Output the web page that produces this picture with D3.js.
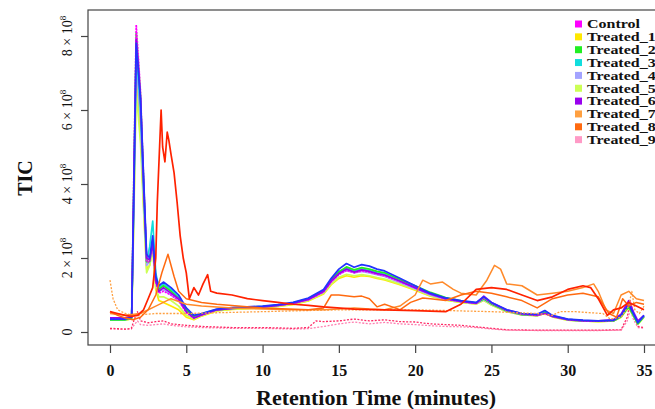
<!DOCTYPE html>
<html><head><meta charset="utf-8">
<script src="https://cdn.jsdelivr.net/npm/d3@7/dist/d3.min.js"></script>
<style>body{margin:0;background:#fff}svg{display:block}</style>
</head><body><svg id="c" width="655" height="409"></svg>
<script>
// ---------- data (TIC in units of 1e8) ----------
const times = [0,0.5,1.0,1.42,1.55,1.72,2.0,2.2,2.4,2.6, 2.8,3.0,3.2,3.5,4.0,4.5,5.0,5.5,6.0,7, 8,9,10,11,12,13,14,14.5,15,15.5, 16,16.5,17,17.5,18,19,20,21,22,23, 24,24.5,25,26,27,28,28.5,29,30,31, 32,33,33.5,34,34.3,34.6,35];

const treated1 = [0.32,0.32,0.32,0.36,3.0,7.0,5.4,3.5,1.7,1.8, 2.3,1.15,0.85,0.8,0.7,0.6,0.4,0.33,0.43,0.57, 0.61,0.63,0.65,0.69,0.74,0.84,1.03,1.28,1.45,1.52, 1.48,1.52,1.5,1.45,1.41,1.28,1.13,0.97,0.86,0.8, 0.76,0.86,0.73,0.55,0.46,0.44,0.5,0.41,0.32,0.3, 0.28,0.3,0.4,0.7,0.44,0.22,0.4];
const treated5 = [0.32,0.32,0.32,0.36,2.8,6.5,5.1,3.3,1.6,1.8, 2.2,1.2,0.95,0.95,0.85,0.7,0.45,0.35,0.44,0.58, 0.62,0.64,0.66,0.7,0.75,0.85,1.05,1.3,1.48,1.56, 1.52,1.55,1.52,1.47,1.43,1.3,1.15,0.98,0.87,0.8, 0.76,0.86,0.73,0.55,0.46,0.44,0.5,0.41,0.32,0.3, 0.28,0.3,0.4,0.66,0.44,0.22,0.4];
const treated4 = [0.33,0.33,0.33,0.37,3.2,7.3,5.7,3.7,1.8,1.9, 2.4,1.35,1.1,1.15,1.0,0.85,0.55,0.4,0.47,0.6, 0.64,0.66,0.68,0.72,0.77,0.88,1.08,1.36,1.56,1.66, 1.6,1.64,1.6,1.55,1.5,1.34,1.17,1.0,0.88,0.82, 0.77,0.88,0.75,0.56,0.47,0.45,0.52,0.42,0.33,0.3, 0.29,0.3,0.42,0.7,0.46,0.24,0.42];
const treated3 = [0.34,0.34,0.34,0.39,3.4,7.6,6.0,3.9,1.9,2.3, 3.0,1.6,1.2,1.3,1.15,0.95,0.62,0.44,0.49,0.61, 0.65,0.67,0.69,0.73,0.79,0.9,1.12,1.42,1.64,1.72, 1.65,1.7,1.66,1.6,1.56,1.38,1.2,1.02,0.9,0.83, 0.78,0.9,0.77,0.58,0.48,0.46,0.55,0.43,0.34,0.31, 0.29,0.31,0.43,0.7,0.47,0.23,0.43];
const treated2 = [0.33,0.33,0.33,0.38,3.8,8.1,6.4,4.1,1.9,1.9, 2.5,1.4,1.15,1.25,1.1,0.9,0.6,0.42,0.48,0.6, 0.64,0.66,0.68,0.72,0.78,0.9,1.1,1.4,1.62,1.76, 1.68,1.74,1.7,1.64,1.6,1.42,1.25,1.07,0.93,0.84, 0.78,0.9,0.76,0.57,0.47,0.45,0.52,0.42,0.33,0.3, 0.29,0.3,0.42,0.68,0.45,0.22,0.42];
const control  = [0.36,0.36,0.36,0.4,3.9,8.3,6.5,4.2,1.9,1.9, 2.4,1.35,1.05,1.1,1.0,0.85,0.52,0.37,0.46,0.6, 0.64,0.66,0.68,0.72,0.77,0.87,1.08,1.35,1.55,1.66, 1.6,1.65,1.62,1.56,1.52,1.36,1.19,1.02,0.89,0.82, 0.77,0.92,0.78,0.58,0.48,0.45,0.5,0.42,0.33,0.3, 0.29,0.31,0.45,0.8,0.5,0.27,0.44];
const treated6 = [0.38,0.38,0.38,0.42,3.6,7.9,6.3,4.0,2.0,1.95, 2.4,1.4,1.1,1.2,1.05,0.9,0.55,0.38,0.46,0.6, 0.64,0.66,0.68,0.72,0.78,0.88,1.1,1.38,1.58,1.7, 1.62,1.68,1.64,1.58,1.54,1.38,1.2,1.03,0.9,0.83, 0.78,0.97,0.8,0.6,0.5,0.46,0.5,0.43,0.34,0.31, 0.3,0.33,0.48,0.85,0.55,0.3,0.45];
const blueRun  = [0.35,0.35,0.35,0.4,3.5,7.8,6.3,4.2,2.1,2.0, 2.6,1.5,1.25,1.35,1.2,1.0,0.65,0.45,0.5,0.62, 0.66,0.68,0.7,0.74,0.8,0.92,1.15,1.45,1.7,1.85, 1.75,1.82,1.78,1.7,1.65,1.45,1.25,1.05,0.92,0.85, 0.8,0.95,0.8,0.6,0.5,0.48,0.58,0.45,0.35,0.32, 0.3,0.32,0.45,0.75,0.5,0.25,0.45];

const redTimes = [0,0.5,1.0,1.4,1.8,2.2,2.5,2.8,3.0,3.1,3.25,3.35,3.45,3.6,3.75,3.85,4.0,4.2,4.4,4.6,4.8,5.0,5.2,5.5,5.8,6.1,6.4,6.6,7,8,9,10,11,12,13,14,16,18,20,22,23,24,25,26,27,28,29,30,31,31.5,32,32.6,33,33.5,34,34.5,35];
const redVals  = [0.55,0.5,0.45,0.42,0.45,0.6,0.9,1.2,2.0,3.5,5.0,6.0,5.0,4.6,5.4,5.2,4.8,4.3,3.5,2.6,2.0,1.6,0.9,1.2,1.0,1.3,1.55,1.1,1.05,1.0,0.9,0.85,0.8,0.75,0.72,0.68,0.62,0.6,0.58,0.55,0.75,1.15,1.2,1.15,1.0,0.85,0.95,1.15,1.25,1.2,0.9,0.45,0.6,0.65,0.8,0.7,0.6];

const t8Times = [0,0.5,1.0,1.5,2.0,2.5,3.0,3.4,3.8,4.2,4.5,5,6,7,10,13,14,14.5,15,16,16.5,17,17.5,18,18.5,19,19.7,20.5,21,22,23,24,25,26,27,28,29,30,31,32,32.7,33.2,33.6,34,34.5,35];
const t8Vals  = [0.55,0.45,0.38,0.33,0.4,0.6,1.0,1.6,2.1,1.5,1.1,0.9,0.8,0.75,0.65,0.6,0.65,1.0,1.0,0.95,0.97,0.9,0.68,0.75,0.68,0.6,0.8,0.92,0.9,0.85,1.0,1.1,1.05,0.95,0.85,0.65,0.9,1.0,1.05,0.95,0.5,0.4,0.9,0.7,0.8,0.75];

const orangeTimes = [0,1,2,3,4,5,6,8,10,12,14,15,16,17,18,19,20,20.5,21,21.8,22.5,23,24,24.7,25.2,25.6,26,27,28,29,30,31,31.7,32,32.5,33,33.5,34,34.5,35];
const orangeVals  = [0.5,0.45,0.5,0.7,0.9,0.75,0.7,0.65,0.62,0.6,0.6,0.62,0.65,0.62,0.6,0.7,1.0,1.4,1.3,1.35,1.15,1.05,1.0,1.4,1.8,1.7,1.3,1.25,1.0,1.05,1.1,1.2,1.3,1.1,0.6,0.5,1.0,1.1,0.9,0.85];

const t7Times = [0,0.2,0.5,1.0,1.5,3,5,10,15,20,25,28,29,29.5,30.5,31.5,32.3,32.8,33.5,34,34.2,34.4,34.7,35];
const t7Vals  = [1.4,0.9,0.6,0.5,0.45,0.5,0.5,0.55,0.6,0.6,0.55,0.5,0.45,0.55,0.55,0.52,0.5,0.35,0.4,0.7,1.1,0.6,0.5,0.7];

const pinkTimes = [0,1,1.4,1.6,1.8,2.0,2.5,3,3.5,4,5,6,8,10,12,13,13.5,14,15,16,17,18,19,20,21,22,23,24,25,26,28,30,32,33.5,33.9,34.1,34.3,34.6,35];
const pinkVals  = [0.1,0.08,0.1,0.35,0.55,0.3,0.25,0.28,0.3,0.22,0.18,0.15,0.12,0.12,0.1,0.12,0.3,0.28,0.3,0.35,0.3,0.33,0.28,0.27,0.22,0.2,0.18,0.14,0.1,0.06,0.05,0.05,0.05,0.06,0.4,0.85,0.5,0.15,0.12];
const t9Vals    = [0.08,0.07,0.08,0.2,0.3,0.2,0.18,0.2,0.22,0.18,0.14,0.12,0.1,0.1,0.08,0.09,0.12,0.15,0.22,0.27,0.22,0.26,0.22,0.2,0.17,0.15,0.14,0.12,0.08,0.05,0.04,0.04,0.04,0.05,0.3,0.6,0.35,0.12,0.1];

const legendNames  = ["Control","Treated_1","Treated_2","Treated_3","Treated_4","Treated_5","Treated_6","Treated_7","Treated_8","Treated_9"];
const legendColors = ["#ff00ff","#ffe800","#22ee22","#11dddd","#a3a3ff","#ccff55","#9900ee","#ffa040","#ff6a10","#ff9ac6"];

const xTicks = [0,5,10,15,20,25,30,35];
const yTicks = [0,2,4,6,8];
const yTickMantissa = ["0","2","4","6","8"];

// ---------- layout ----------
const svg = d3.select("#c");
const x = d3.scaleLinear().domain([0,35]).range([110,644]);
const y = d3.scaleLinear().domain([0,8]).range([332,36]);
const box = {l:88, t:10, r:662, b:345};

svg.append("clipPath").attr("id","clip").append("rect")
  .attr("x",box.l+1).attr("y",box.t+1).attr("width",box.r-box.l-2).attr("height",box.b-box.t-2);

const series = [
  {t:pinkTimes, v:t9Vals, c:"#ff7fb0", w:1.3, d:"2,1.5"},
  {t:pinkTimes, v:pinkVals, c:"#ff2a66", w:1.3, d:"2,1.5"},
  {t:times, v:treated1, c:legendColors[1], w:1.7},
  {t:times, v:treated5, c:legendColors[5], w:1.7},
  {t:times, v:treated4, c:legendColors[4], w:1.7},
  {t:times, v:treated3, c:legendColors[3], w:1.7},
  {t:times, v:treated2, c:legendColors[2], w:1.7},
  {t:times, v:control,  c:legendColors[0], w:1.7, d:"2,1"},
  {t:times, v:treated6, c:legendColors[6], w:1.7},
  {t:times, v:blueRun,  c:"#2233ff", w:1.7},
  {t:t7Times, v:t7Vals, c:legendColors[7], w:1.3, d:"2,1.5"},
  {t:orangeTimes, v:orangeVals, c:"#ff8a2a", w:1.5},
  {t:t8Times, v:t8Vals, c:legendColors[8], w:1.5},
  {t:redTimes, v:redVals, c:"#ff2200", w:1.7}
];

const line = d3.line().x(d=>x(d[0])).y(d=>y(d[1])).curve(d3.curveLinear);
const g = svg.append("g").attr("clip-path","url(#clip)");
series.forEach(s=>{
  g.append("path").datum(s.t.map((t,i)=>[t,s.v[i]]))
   .attr("d",line).attr("fill","none").attr("stroke",s.c)
   .attr("stroke-width",s.w).attr("stroke-linejoin","round")
   .attr("stroke-dasharray",s.d||null);
});

// box
svg.append("rect").attr("x",box.l).attr("y",box.t).attr("width",box.r-box.l).attr("height",box.b-box.t)
  .attr("fill","none").attr("stroke","#444").attr("stroke-width",1.2);

// x axis
const xa = svg.append("g").attr("transform",`translate(0,${box.b})`)
  .call(d3.axisBottom(x).tickValues(xTicks).tickSize(8).tickPadding(12).tickFormat(d3.format("d")));
xa.select(".domain").remove();
xa.selectAll("line").attr("stroke","#444").attr("stroke-width",1.2);
xa.selectAll("text").attr("font-family","Liberation Serif").attr("font-weight","bold").attr("font-size",16).attr("fill","#111");

// y axis
const ya = svg.append("g").attr("transform",`translate(${box.l},0)`)
  .call(d3.axisLeft(y).tickValues(yTicks).tickSize(7).tickFormat(""));
ya.select(".domain").remove();
ya.selectAll("line").attr("stroke","#444").attr("stroke-width",1.2);
yTicks.forEach((v,i)=>{
  const t = svg.append("text").attr("transform",`translate(72,${y(v)}) rotate(-90)`)
    .attr("text-anchor","middle").attr("font-family","Liberation Serif").attr("font-size",14).attr("fill","#111");
  if (v===0) { t.text(yTickMantissa[i]); }
  else {
    t.append("tspan").text(yTickMantissa[i] + " \u00d7 10");
    t.append("tspan").attr("dy",-6).attr("font-size",9).text("8");
  }
});

// axis titles
svg.append("text").attr("x",376).attr("y",405).attr("text-anchor","middle")
  .attr("font-family","Liberation Serif").attr("font-weight","bold").attr("font-size",22).attr("fill","#111")
  .text("Retention Time (minutes)");
svg.append("text").attr("transform","translate(32,178) rotate(-90)").attr("text-anchor","middle")
  .attr("font-family","Liberation Serif").attr("font-weight","bold").attr("font-size",20).attr("fill","#111")
  .text("TIC");

// legend
const lg = svg.append("g");
legendNames.forEach((n,i)=>{
  const yy = 24 + i*12.85;
  lg.append("rect").attr("x",575).attr("y",yy-3.5).attr("width",7).attr("height",7).attr("fill",legendColors[i]);
  lg.append("text").attr("transform",`translate(587,${yy+4.3}) scale(1.28,1)`)
    .attr("font-family","Liberation Serif").attr("font-weight","bold")
    .attr("font-size",12.5).attr("fill","#111").text(n);
});
</script></body></html>
